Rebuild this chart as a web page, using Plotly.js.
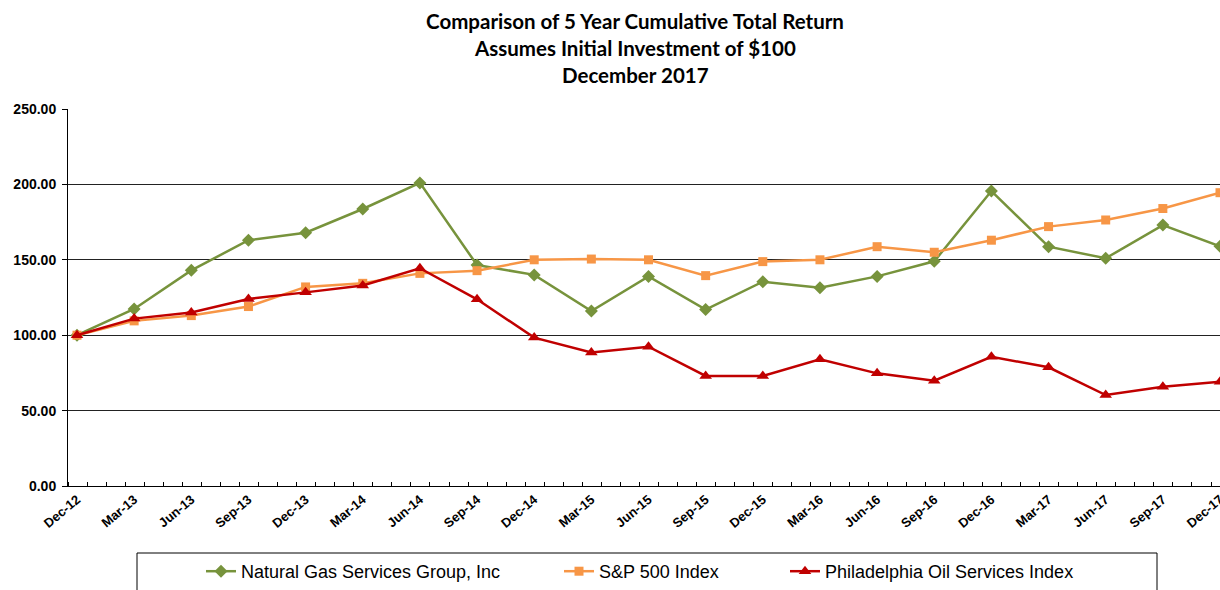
<!DOCTYPE html>
<html>
<head>
<meta charset="utf-8">
<script src="https://cdn.plot.ly/plotly-3.0.1.min.js"></script>
<style>html,body{margin:0;padding:0;background:#fff;}#chart{width:1220px;height:590px;}</style>
</head>
<body>
<div id="chart"></div>
<script>
const quarters = ["Dec-12","Mar-13","Jun-13","Sep-13","Dec-13","Mar-14","Jun-14","Sep-14","Dec-14","Mar-15","Jun-15","Sep-15","Dec-15","Mar-16","Jun-16","Sep-16","Dec-16","Mar-17","Jun-17","Sep-17","Dec-17"];
const ngs = [100, 117.4, 143, 163, 168, 183.7, 201, 146.5, 140, 116, 139, 117, 135.5, 131.4, 139, 149, 195.6, 158.7, 151, 173, 159];
const sp500 = [100, 109.5, 113, 119, 132, 134.4, 141, 142.8, 150, 150.5, 150, 139.5, 148.8, 150, 158.7, 155, 163, 172, 176.4, 184, 194.5];
const osx = [100, 111, 115, 124, 128.4, 133, 144.4, 123.8, 98.4, 88.6, 92.4, 73, 73, 84, 74.7, 69.8, 85.7, 78.7, 60.3, 65.8, 69.2];
const yTicks = [0, 50, 100, 150, 200, 250];
const titleLines = ["Comparison of 5 Year Cumulative Total Return", "Assumes Initial Investment of $100", "December 2017"];

const idx = quarters.map((q, i) => i);

const series = [
  {name: "Natural Gas Services Group, Inc", y: ngs, color: "#77933C", symbol: "diamond", size: 10, legend: "legend"},
  {name: "S&P 500 Index", y: sp500, color: "#F79646", symbol: "square", size: 9, legend: "legend2"},
  {name: "Philadelphia Oil Services Index", y: osx, color: "#C00000", symbol: "triangle-up", size: 11, legend: "legend3"}
];
const traces = series.map(s => ({
  type: "scatter", mode: "lines+markers", name: s.name, legend: s.legend,
  x: idx, y: s.y,
  line: {color: s.color, width: 2.5},
  marker: {color: s.color, symbol: s.symbol, size: s.size},
  hoverinfo: "x+y+name"
}));

const legendFont = {family: "Liberation Sans, Arial, sans-serif", size: 18, color: "#000"};
function mkLegend(x) {
  return {orientation: "h", x: x, xanchor: "left", y: -0.228, yanchor: "middle",
    bgcolor: "rgba(0,0,0,0)", borderwidth: 0, font: legendFont, itemwidth: 30};
}
const titleFont = {family: "Lato, sans-serif", size: 20.5, color: "#000", weight: "bold"};
const titleX = (635-68)/1152;

const layout = {
  width: 1220, height: 590,
  margin: {l: 68, r: 0, t: 109, b: 104},
  paper_bgcolor: "#fff", plot_bgcolor: "#fff",
  font: {family: "Liberation Sans, Arial, sans-serif", color: "#000"},
  title: {
    text: titleLines[0],
    font: titleFont,
    x: titleX, xanchor: "center", xref: "paper", y: 1 - 22/590, yanchor: "middle", yref: "container"
  },
  annotations: [
    {text: titleLines[1], xref: "paper", yref: "paper", x: titleX, xanchor: "center", y: (486-48)/377, yanchor: "middle", showarrow: false, font: titleFont},
    {text: titleLines[2], xref: "paper", yref: "paper", x: titleX, xanchor: "center", y: (486-75)/377, yanchor: "middle", showarrow: false, font: titleFont}
  ],
  shapes: [
    {type: "rect", xref: "paper", yref: "paper", x0: (137-68)/1152, x1: (1157-68)/1152, y0: -(553-486)/377, y1: -(620-486)/377,
     line: {color: "#000", width: 1}, fillcolor: "rgba(0,0,0,0)", layer: "above"}
  ],
  xaxis: {
    range: [-0.1575, 20],
    tickmode: "array", tickvals: idx, ticktext: quarters,
    tickangle: -40,
    ticks: "", ticklabeloverflow: "allow",
    minor: {dtick: 1/3, tick0: -0.1575, ticks: "inside", ticklen: 4, tickcolor: "#000", showgrid: false},
    showgrid: false, zeroline: false,
    showline: true, linecolor: "#000", linewidth: 1,
    tickfont: {family: "Liberation Sans, Arial, sans-serif", size: 13, color: "#000", weight: "bold"},
    fixedrange: true
  },
  yaxis: {
    range: [0, 250],
    tickmode: "array", tickvals: yTicks, ticktext: yTicks.map(v => v.toFixed(2)),
    ticks: "outside", ticklen: 5, tickcolor: "#000", ticklabelstandoff: 3,
    showgrid: true, gridcolor: "#222", gridwidth: 1,
    zeroline: false,
    showline: true, linecolor: "#000", linewidth: 1,
    tickfont: {family: "Liberation Sans, Arial, sans-serif", size: 14, color: "#000", weight: "bold"},
    fixedrange: true
  },
  legend: mkLegend((201-68)/1152),
  legend2: mkLegend((559-68)/1152),
  legend3: mkLegend((785-68)/1152),
  showlegend: true
};

Plotly.newPlot("chart", traces, layout, {displayModeBar: false});
</script>
</body>
</html>
